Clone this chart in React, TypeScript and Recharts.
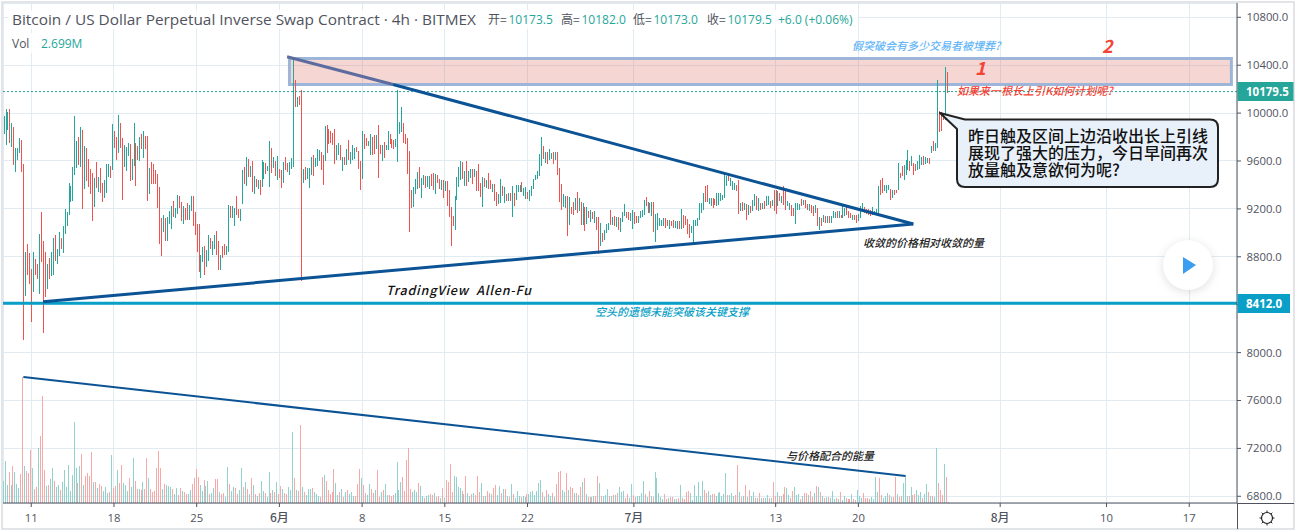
import React from "react";
import { ComposedChart, Bar, XAxis, YAxis, CartesianGrid, ReferenceLine, ReferenceArea } from "recharts";

const priceTicks = [10800, 10400, 10000, 9600, 9200, 8800, 8400, 8000, 7600, 7200, 6800];
const dateTickBars = [14, 56, 98, 140, 182, 224, 266, 320, 392, 434, 506, 560, 602];
const dateTickLabels = ["11", "18", "25", "6月", "8", "15", "22", "7月", "13", "20", "8月", "10", "17"];

const candleDirs =
  "GGGRGRGGGR" + "RGRRRGRRGR" + "RRGRGGRGGR" + "GGGGGGGGRG" + "RGRRRRGRGR" + "RGGGRGRRGR" + "RGGGRGGRRG" + "RGRRGRRRRR" +
  "RGRGGGRGGR" + "RGRRGGRRRR" + "GGRGGRGGRR" + "GRRGGRGGRR" + "GGRGRGRGRG" + "RGGRGGRGRG" + "RRGRRGGGRG" + "RRGRGGGRGG" + "G" +
  "RRGRRRRRGG" + "RGRGRGGGRR" + "RGRRGGRRGR" + "RGRGGRRRGG" + "GGRRRRRGGG" + "RGGRGGRRGR" + "RGRGRRRRGG" + "GGRGRGGRGR" +
  "RRGRGRRGRR" + "GGRGRGRGRG" + "GGRGGRGGGG" + "GGGRGRGGRG" + "RRRGGRGRRG" + "RGRGRGRGRG" + "RRGRGGGRGR" + "GRGGGRRGGR" + "RG" +
  "GGGRGRGRGG" + "GGGRRGRRGGR" + "GRRRRGGGGG" + "GGRRGGRRGG" + "GGGGRGGGRRG" + "RGRGRGGRGR" + "GRGGRGRRGR" +
  "GRRGGRRGGGR" + "GRRGRRGRGR" + "GRGRGGGRGR" + "GGRRRGRRGGG" + "RRRRGGGGRR" + "GGGRGRRGRR" + "GGGRGRRGGG" + "RGGRGRGGRR" + "RGRG";

const candleHighs = [
  9979, 10037, 10012, 10037, 9920, 9887, 9712, 9712, 9795, 9778,
  9578, 8836, 8911, 8828, 8694, 8844, 8778, 8736, 8994, 9170,
  8936, 8844, 8744, 8794, 8844, 8953, 8986, 8861, 9003, 8953,
  9061, 9195, 9178, 9420, 9395, 9553, 9979, 9770, 9803, 9887,
  9862, 9728, 9712, 9620, 9537, 9503, 9461, 9595, 9470, 9545,
  9420, 9445, 9578, 9578, 9562, 9912, 9853, 9803, 9987, 9920,
  9795, 9737, 9720, 9753, 9745, 9620, 9920, 9753, 9728, 9803,
  9828, 9853, 9812, 9812, 9545, 9595, 9578, 9528, 9495, 9386,
  9120, 9153, 9128, 9136, 9186, 9228, 9270, 9211, 9320, 9311,
  9261, 9228, 9211, 9253, 9236, 9311, 9311, 9178, 9070, 9078,
  8819, 8878, 8886, 8853, 8986, 8953, 8928, 8978, 9019, 8928,
  8819, 8886, 8903, 8886, 9236, 9228, 9228, 9211, 9311, 9203,
  9203, 9528, 9553, 9637, 9620, 9562, 9603, 9478, 9453, 9445,
  9445, 9612, 9595, 9587, 9562, 9770, 9712, 9637, 9603, 9645,
  9537, 9528, 9595, 9637, 9587, 9595, 9628, 10469, 10278, 10136,
  10144, 10194, 9537, 9553, 9545, 9545, 9637, 9653, 9628, 9703,
  9695,
  9678, 9653, 9895, 9903, 9870, 9853, 9836, 9870, 9736, 9753,
  9736, 9636, 9636, 9703, 9778, 9678, 9736, 9711, 9720, 9686,
  9603, 9853, 9828, 9795, 9770, 9828, 9803, 9820, 9820, 9903,
  9736, 9736, 9761, 9736, 9853, 9828, 9786, 9778, 9786, 10195,
  9928, 10053, 9920, 9828, 9795, 9686, 9361, 9386, 9453, 9511,
  9553, 9461, 9486, 9478, 9478, 9478, 9494, 9503, 9494, 9486,
  9453, 9444, 9444, 9436, 9436, 9361, 9219, 9144, 9311, 9469,
  9553, 9603, 9595, 9519, 9603, 9519, 9536, 9536, 9536, 9519,
  9578, 9419, 9469, 9461, 9444, 9503, 9444, 9411, 9411, 9344,
  9328, 9453, 9394, 9386, 9328, 9336, 9336, 9394, 9336, 9403,
  9403, 9403, 9428, 9378, 9386, 9344, 9361, 9394, 9453, 9486,
  9519, 9661, 9803, 9728, 9678, 9678, 9703, 9670, 9678, 9678,
  9678, 9544, 9411, 9328, 9311, 9311, 9303, 9219, 9261, 9294,
  9344, 9294, 9261, 9253, 9219, 9219, 9186, 9194, 9178, 9186,
  9136, 9136, 9086, 9002, 9027, 9077, 9086, 9194, 9136, 9144,
  9136, 9136, 9127, 9178, 9244, 9178, 9178, 9169, 9194, 9178,
  9144, 9144,
  9185, 9194, 9277, 9297, 9261, 9249, 9261, 9261, 9160, 9166,
  9127, 9105, 9127, 9124, 9110, 9110, 9096, 9105, 9096, 9096, 9096,
  9202, 9149, 9138, 9116, 9071, 9055, 9110, 9110, 9127, 9249,
  9249, 9333, 9388, 9397, 9291, 9291, 9291, 9285, 9333, 9333,
  9333, 9319, 9500, 9472, 9486, 9458, 9430, 9416, 9402, 9444, 9249,
  9255, 9249, 9244, 9236, 9222, 9277, 9327, 9305, 9291, 9249,
  9249, 9263, 9305, 9305, 9263, 9277, 9361, 9361, 9347, 9333,
  9305, 9388, 9347, 9263, 9249, 9236, 9205, 9249, 9249, 9244, 9283,
  9277, 9277, 9241, 9241, 9236, 9227, 9236, 9205, 9130, 9124,
  9152, 9138, 9138, 9138, 9138, 9185, 9172, 9180, 9180, 9152,
  9236, 9208, 9216, 9180, 9166, 9152, 9152, 9152, 9158, 9222, 9249,
  9216, 9202, 9199, 9194, 9213, 9180, 9202, 9388, 9444, 9458,
  9402, 9402, 9402, 9366, 9361, 9361, 9361, 9583, 9500, 9555,
  9569, 9611, 9694, 9597, 9639, 9583, 9575, 9602, 9652, 9633,
  9639, 9633, 9625, 9625, 9728, 9769, 9750, 10278, 10019, 10006,
  10000, 10384, 10342, 10181,
];

const candleLows = [
  9828, 9737, 9862, 9751, 9720, 9570, 9512, 9612, 9670, 9512,
  8102, 8469, 8652, 8577, 8252, 8502, 8652, 8611, 8486, 8753,
  8160, 8461, 8527, 8611, 8636, 8652, 8761, 8744, 8803, 8861,
  8828, 8994, 9053, 9145, 9261, 9270, 9487, 9545, 9570, 9553,
  9203, 9370, 9436, 9386, 9328, 9095, 9220, 9378, 9345, 9336,
  9261, 9295, 9336, 9470, 9461, 9528, 9712, 9612, 9670, 9712,
  9278, 9553, 9520, 9645, 9436, 9445, 9562, 9395, 9612, 9603,
  9703, 9628, 9703, 9270, 9328, 9411, 9411, 9411, 9211, 8911,
  8803, 9003, 8936, 8928, 9070, 9028, 9136, 9128, 9161, 9211,
  9103, 9070, 9111, 9111, 9111, 9186, 9053, 8978, 8836, 8669,
  8619, 8753, 8652, 8711, 8761, 8861, 8819, 8861, 8811, 8686,
  8686, 8786, 8811, 8819, 8844, 9120, 9128, 9053, 9153, 9120,
  9103, 9245, 9411, 9395, 9470, 9470, 9345, 9328, 9386, 9370,
  9320, 9386, 9453, 9495, 9520, 9386, 9503, 9545, 9478, 9445,
  9461, 9378, 9420, 9528, 9512, 9487, 9537, 9553, 10052, 10052,
  10069, 8602, 9420, 9445, 9453, 9378, 9487, 9478, 9553, 9562,
  9603,
  9528, 9403, 9603, 9670, 9745, 9753, 9736, 9578, 9611, 9653,
  9611, 9519, 9570, 9570, 9611, 9578, 9611, 9620, 9678, 9536,
  9361, 9453, 9703, 9728, 9728, 9653, 9653, 9661, 9703, 9461,
  9661, 9603, 9628, 9695, 9695, 9745, 9711, 9703, 9720, 9595,
  9828, 9845, 9753, 9745, 9494, 9011, 9211, 9219, 9328, 9369,
  9378, 9294, 9403, 9378, 9386, 9369, 9394, 9361, 9328, 9419,
  9369, 9361, 9294, 9353, 9228, 9136, 8894, 9061, 9027, 9278,
  9386, 9444, 9453, 9394, 9394, 9428, 9461, 9411, 9469, 9353,
  9353, 9303, 9219, 9386, 9378, 9369, 9369, 9344, 9269, 9228,
  9244, 9253, 9311, 9253, 9269, 9269, 9269, 9136, 9228, 9278,
  9344, 9344, 9344, 9311, 9286, 9286, 9269, 9311, 9369, 9444,
  9453, 9478, 9561, 9620, 9586, 9578, 9611, 9620, 9578, 9611,
  9486, 9261, 9194, 9219, 9211, 8977, 9069, 9161, 9153, 9194,
  9169, 9186, 9069, 9069, 9019, 9077, 9127, 9094, 9119, 9086,
  9027, 8827, 8886, 8927, 8944, 9002, 9027, 9069, 9069, 9061,
  9052, 9027, 9011, 9094, 9144, 9127, 9111, 9102, 9036, 9077,
  9083, 9086,
  9124, 9133, 9152, 9222, 9166, 9166, 9138, 9005, 8927, 9027,
  9055, 9055, 9055, 9041, 9055, 9035, 9055, 9041, 9041, 9035, 9035,
  9035, 9041, 9069, 8994, 8957, 8999, 8910, 9055, 9055, 9110,
  9166, 9194, 9258, 9258, 9244, 9222, 9208, 9230, 9222, 9236,
  9263, 9277, 9291, 9388, 9430, 9388, 9361, 9361, 9347, 9160, 9180,
  9180, 9194, 9110, 9152, 9166, 9180, 9222, 9194, 9180, 9194,
  9202, 9199, 9222, 9236, 9208, 9222, 9180, 9160, 9222, 9263,
  9249, 9236, 9194, 9222, 9194, 9138, 9138, 9077, 9194, 9194, 9222,
  9236, 9208, 9194, 9180, 9166, 9144, 9166, 9055, 9027, 9055,
  9088, 9083, 9083, 9083, 9083, 9124, 9124, 9124, 9122, 9124,
  9124, 9138, 9152, 9124, 9124, 9110, 9110, 9083, 9096, 9124, 9172,
  9166, 9160, 9152, 9144, 9152, 9152, 9152, 9166, 9319, 9333,
  9347, 9333, 9355, 9277, 9291, 9319, 9333, 9361, 9458, 9472,
  9444, 9486, 9527, 9513, 9555, 9480, 9513, 9522, 9533, 9569,
  9569, 9577, 9583, 9577, 9666, 9680, 9680, 9708, 9839, 9847,
  9939, 9944, 10167, 10173,
];

const volumes = [
  88, 169, 72, 124, 72, 148, 124, 76, 60, 116,
  504, 148, 128, 120, 212, 140, 56, 64, 220, 268,
  428, 132, 68, 72, 96, 140, 88, 64, 72, 52,
  84, 132, 64, 152, 48, 112, 324, 140, 80, 148,
  196, 72, 108, 120, 108, 204, 84, 84, 60, 76,
  68, 48, 64, 40, 44, 192, 60, 68, 132, 80,
  152, 80, 72, 48, 100, 64, 180, 88, 56, 56,
  52, 84, 56, 180, 100, 56, 44, 48, 140, 208,
  140, 56, 76, 72, 68, 64, 56, 36, 60, 32,
  60, 48, 44, 36, 36, 52, 76, 100, 136, 104,
  72, 48, 92, 68, 88, 36, 40, 60, 96, 96,
  44, 36, 40, 24, 144, 76, 48, 64, 60, 36,
  52, 140, 64, 84, 56, 36, 100, 72, 36, 28,
  40, 88, 48, 40, 24, 124, 40, 52, 44, 84,
  36, 68, 56, 40, 36, 64, 52, 284, 100, 52,
  48, 312, 64, 44, 32, 56, 56, 60, 44, 36,
  28, 24, 104, 112, 88, 52, 36, 44, 136, 80,
  32, 44, 56, 24, 44, 52, 36, 44, 28, 28,
  76, 136, 100, 72, 40, 32, 76, 56, 40, 52,
  132, 24, 44, 52, 76, 32, 32, 28, 32, 40,
  164, 52, 84, 104, 48, 172, 220, 56, 44, 52,
  44, 80, 68, 28, 20, 28, 32, 36, 32, 40,
  24, 28, 20, 60, 20, 92, 84, 156, 44, 108,
  104, 64, 60, 48, 36, 108, 40, 28, 36, 40,
  32, 108,
  44, 80, 28, 28, 48, 40, 36, 60, 72, 32,
  68, 40, 56, 56, 28, 24, 76, 36, 20, 48,
  27, 24, 27, 24, 36, 36, 44, 48, 32, 48,
  80, 92, 44, 24, 52, 36, 28, 40, 24, 76,
  124, 128, 52, 44, 120, 52, 64, 60, 40, 40,
  32, 64, 84, 100, 36, 24, 24, 24, 28, 28,
  108, 80, 28, 28, 32, 56, 28, 28, 32, 32,
  40, 64, 44, 48, 20, 36, 20, 76, 32, 24,
  28, 28, 40, 88, 36, 24, 48, 28, 24, 124,
  100, 40, 24, 16, 36, 16, 20, 24, 24, 16,
  16, 20, 72, 20, 16, 44, 48, 40, 12, 72,
  28, 84, 28, 88, 52, 40, 48, 32, 36, 36,
  28, 40, 44, 28, 36, 120, 32, 32, 40, 28,
  32, 152, 44, 24, 28, 72, 24, 52, 28, 44,
  20, 20, 40, 20, 20, 20, 32, 20, 20, 84,
  28, 44, 28, 28, 36, 64, 60, 32, 20, 48,
  64, 32, 36, 16, 28, 40, 40, 32, 48, 24,
  40, 68, 64, 44, 28, 20, 24, 24, 20, 48,
  16, 20, 16, 44, 12, 28, 20, 16, 16, 36,
  16, 12, 52, 28, 20, 40, 20, 20, 16, 24,
  16, 104, 44, 100, 32, 20, 28, 40, 32, 24,
  24, 104, 36, 24, 28, 80, 104, 28, 28, 64,
  32, 36, 52, 32, 44, 20, 36, 76, 44, 28,
  28, 24, 220, 80, 52, 32, 156, 104, 2.699,
];

const rows = candleHighs.map((high, i) => ({
  i,
  range: [candleLows[i], high],
  vol: volumes[i] ?? 0,
  up: candleDirs[i] === "G",
}));

const FONT = "'Noto Sans CJK SC', 'Noto Sans', sans-serif";
const LATIN = "'Open Sans', 'Noto Sans CJK SC', sans-serif";
const AXIS = "#50535e";
const GREEN = "#26a69a";
const RED = "#ef5350";
const GRID = "#e1ecf2";
const NAVY = "#0b5394";
const DIMMED_NAVY = "#5c6c9e";

const snapRect = (p: any, fill: string) => {
  const top = Math.round(p.y);
  const bottom = Math.max(Math.round(p.y + p.height), top + 1);
  return <rect x={Math.floor(p.x + p.width / 2)} y={top} width={1} height={bottom - top} fill={fill} />;
};
const CandleShape = (p: any) => snapRect(p, p.payload.up ? GREEN : RED);
const VolumeShape = (p: any) => snapRect(p, p.payload.up ? "#92d2cc" : "#f7a9a7");
const gridV = (p: any) => <line key={p.key ?? p.index} x1={Math.floor(p.x1) + 0.5} x2={Math.floor(p.x1) + 0.5} y1={p.y1} y2={p.y2} stroke={GRID} strokeWidth={1} />;
const gridH = (p: any) => <line key={p.key ?? p.index} x1={p.x1} x2={p.x2} y1={Math.floor(p.y1) + 0.5} y2={Math.floor(p.y1) + 0.5} stroke={GRID} strokeWidth={1} />;

const PriceTick = (p: any) => (
  <text x={1246.5} y={p.y + 4} fontFamily={LATIN} fontSize={11.3} fill={AXIS}>{p.payload.value.toFixed(1)}</text>
);
const DateTick = (p: any) => {
  const label = dateTickLabels[dateTickBars.indexOf(p.payload.value)];
  return (
    <text x={p.x} y={p.y + 13} textAnchor="middle" fontFamily={label.includes("月") ? FONT : LATIN} fontSize={label.includes("月") ? 12 : 11.3} fontWeight={label.includes("月") ? 500 : 400} fill={AXIS}>{label}</text>
  );
};

const Note = ({ x, y, color, size = 11, weight = 500, fit, children }: any) => (
  <text x={x} y={y} fontFamily={FONT} fontSize={size} fontStyle="italic" fontWeight={weight} fill={color} textLength={fit} lengthAdjust={fit ? "spacing" : undefined}>{children}</text>
);

const Quote = ({ x, label, value }: any) => (
  <g fontFamily={LATIN} fontSize={12}>
    <text x={x} y={24} fontFamily={FONT} fill={AXIS}>{label}=</text>
    <text x={x + 20.5} y={24} fill={GREEN}>{value}</text>
  </g>
);

export default function App() {
  return (
    <div style={{ position: "absolute", left: 0, top: 0, width: 1300, height: 532, background: "#fff", overflow: "hidden" }}>
      <ComposedChart width={1295} height={530} data={rows} margin={{ top: 3, right: 0, bottom: 0, left: 3 }}>
        <CartesianGrid yAxisId="price" vertical={gridV} horizontal={gridH} />
        <XAxis dataKey="i" type="number" domain={[-0.35, 626.25]} ticks={dateTickBars} height={27} allowDataOverflow interval={0}
          stroke={AXIS} tickSize={4} tick={DateTick} />
        <YAxis yAxisId="price" orientation="right" domain={[6744, 10919.4]} ticks={priceTicks} width={58} allowDataOverflow interval={0}
          stroke={AXIS} tickSize={4} tick={PriceTick} />
        <YAxis yAxisId="vol" hide domain={[0, 2000]} allowDataOverflow />
        <Bar yAxisId="vol" dataKey="vol" barSize={1} shape={VolumeShape} isAnimationActive={false} />
        <Bar yAxisId="price" dataKey="range" barSize={1} shape={CandleShape} isAnimationActive={false} />
        <ReferenceLine yAxisId="price" y={10179.5} stroke={GREEN} strokeDasharray="2 2" strokeWidth={1} />
        <ReferenceLine yAxisId="price" y={8412} stroke="#0a9fc7" strokeWidth={3} />
        <ReferenceArea yAxisId="price" x1={145.1} x2={623.4} y1={10239} y2={10456} fill="rgba(220,90,80,0.25)" fillOpacity={1} stroke="#9db5d9" strokeWidth={3} ifOverflow="visible" />
        <ReferenceLine yAxisId="price" segment={[{ x: 143.9, y: 10471 }, { x: 197.7, y: 10239 }]} stroke={DIMMED_NAVY} strokeWidth={3} ifOverflow="visible" />
        <ReferenceLine yAxisId="price" segment={[{ x: 197.7, y: 10239 }, { x: 461.9, y: 9074 }]} stroke={NAVY} strokeWidth={3} ifOverflow="visible" />
        <ReferenceLine yAxisId="price" segment={[{ x: 20, y: 8425 }, { x: 461.9, y: 9074 }]} stroke={NAVY} strokeWidth={3} ifOverflow="visible" />
        <ReferenceLine yAxisId="price" segment={[{ x: 10, y: 7796 }, { x: 458, y: 6970 }]} stroke={NAVY} strokeWidth={2} ifOverflow="visible" />
      </ComposedChart>

      <svg width={1300} height={532} style={{ position: "absolute", left: 0, top: 0, pointerEvents: "none" }}>
        <rect x={2} y={2} width={1292} height={527} fill="none" stroke="#d9dcdf" strokeWidth={1.5} />
        <line x1={1237.5} x2={1237.5} y1={503} y2={529} stroke={AXIS} />
        <line x1={1237} x2={1294} y1={503.5} y2={503.5} stroke={AXIS} />

        <rect x={8} y={10} width={850} height={19} fill="#fff" fillOpacity={0.8} />
        <rect x={8} y={33} width={80} height={20} fill="#fff" fillOpacity={0.8} />
        <text x={12} y={24.5} fontFamily={LATIN} fontSize={14} fill={AXIS} textLength={464} lengthAdjust="spacingAndGlyphs">
          Bitcoin / US Dollar Perpetual Inverse Swap Contract · 4h · BITMEX
        </text>
        <Quote x={488} label="开" value="10173.5" />
        <Quote x={561} label="高" value="10182.0" />
        <Quote x={633} label="低" value="10173.0" />
        <Quote x={707} label="收" value="10179.5" />
        <text x={778} y={24} fontFamily={LATIN} fontSize={12} fill={GREEN}>+6.0 (+0.06%)</text>
        <text x={12} y={48} fontFamily={LATIN} fontSize={12} fill={AXIS}>Vol</text>
        <text x={41} y={48} fontFamily={LATIN} fontSize={12} fill={GREEN}>2.699M</text>

        <Note x={386} y={295} color="#111" size={12.5} weight={500} fit={145}>{"TradingView\u00a0\u00a0Allen-Fu"}</Note>
        <Note x={595} y={316} color="#0a9fc7">空头的遗憾未能突破该关键支撑</Note>
        <Note x={863} y={247} color="#222">收敛的价格相对收敛的量</Note>
        <Note x={786} y={460} color="#222">与价格配合的能量</Note>
        <Note x={852} y={50} color="#64b5f6">假突破会有多少交易者被埋葬?</Note>
        <Note x={957} y={95} color="#f44336">如果来一根长上引K如何计划呢?</Note>
        <Note x={975} y={75} color="#f44336" size={18} weight={700}>1</Note>
        <Note x={1102} y={53} color="#f44336" size={18} weight={700}>2</Note>

        <path d="M940 113 L965 119.5 L1210 119.5 Q1218 119.5 1218 127.5 L1218 179 Q1218 187 1210 187 L965 187 Q957 187 957 179 L957 129 Z" fill="#e8f0fa" stroke="#222" strokeWidth={2} strokeLinejoin="round" />
        <g fontFamily={FONT} fontSize={16} fontWeight={500} fill="#111">
          <text x={968} y={142}>昨日触及区间上边沿收出长上引线</text>
          <text x={968} y={159}>展现了强大的压力，今日早间再次</text>
          <text x={968} y={176}>放量触及意欲何为呢?</text>
        </g>

        <rect x={1237.5} y={82} width={56} height={19} fill={GREEN} />
        <text x={1246} y={96} fontFamily={LATIN} fontSize={11.5} fontWeight={700} fill="#fff">10179.5</text>
        <rect x={1237.5} y={294} width={52.5} height={19} fill="#0a9fc7" />
        <text x={1246} y={308} fontFamily={LATIN} fontSize={11.5} fontWeight={700} fill="#fff">8412.0</text>

        <circle cx={1188} cy={265} r={25} fill="#fff" style={{ filter: "drop-shadow(0 2px 5px rgba(0,0,0,0.12))" }} />
        <path d="M1183 257 L1196 265 L1183 274 Z" fill="#3a9df0" />

        <g stroke="#222" fill="none">
          <circle cx={1267} cy={518} r={5.5} strokeWidth={1.2} />
          <path d="M1267 510.5 V512.5 M1267 523.5 V525.5 M1259.5 518 H1261.5 M1272.5 518 H1274.5 M1261.7 512.7 L1263 514 M1272.3 512.7 L1271 514 M1261.7 523.3 L1263 522 M1272.3 523.3 L1271 522" strokeWidth={1} />
        </g>
      </svg>
    </div>
  );
}
